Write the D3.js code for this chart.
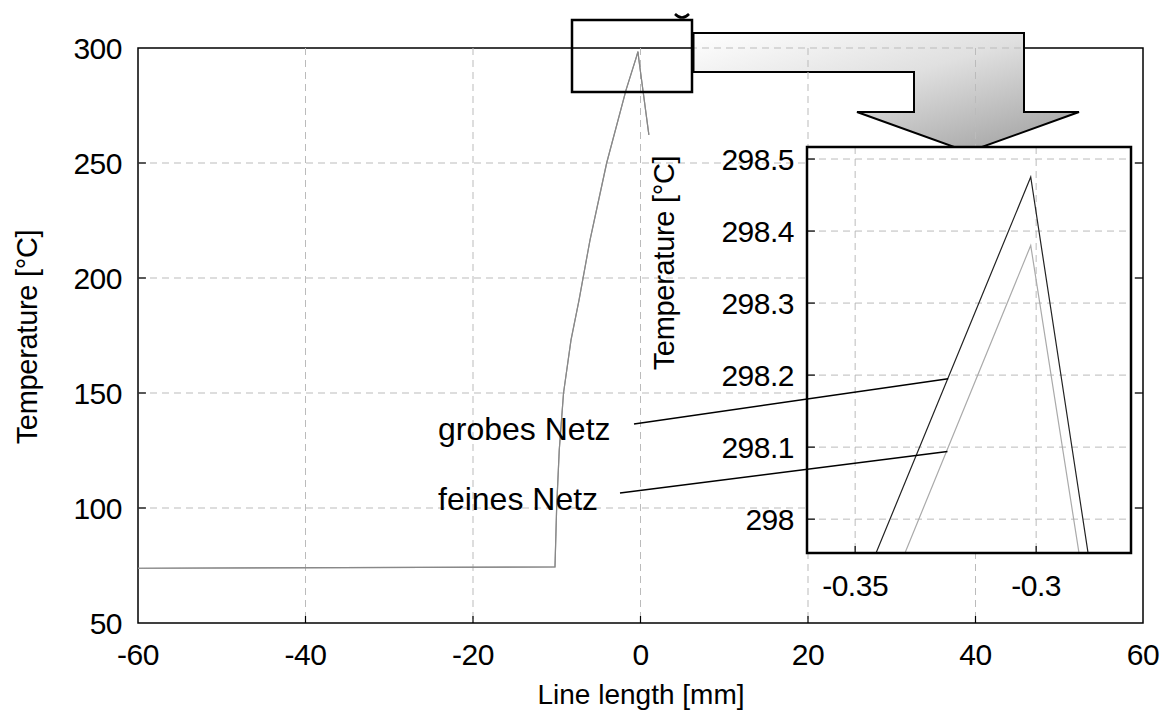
<!DOCTYPE html>
<html><head><meta charset="utf-8">
<script src="https://cdn.jsdelivr.net/npm/d3@7"></script>
<style>
html,body{margin:0;padding:0;background:#fff;}
text{font-family:"Liberation Sans",Arial,Helvetica,sans-serif;fill:#000;}
</style></head>
<body><svg id="c" width="1168" height="716"></svg>
<script>
// ---- data ----
const lineLength = [-60, -10.21, -10.01, -9.70, -9.19, -8.30, -7.34, -6.03, -4.04, -1.73, -0.5, -0.3015, -0.2, 1.0];
const tempCoarse = [73.8, 74.4, 100.4, 125.2, 150.0, 173.0, 190.4, 216.5, 250.0, 281.7, 296.05, 298.475, 295.13, 262.2];
const tempFine   = [73.8, 74.4, 100.4, 125.2, 150.0, 173.0, 190.4, 216.5, 250.0, 281.7, 295.94, 298.38, 295.13, 262.2];
const xTicks = [-60, -40, -20, 0, 20, 40, 60];
const yTicks = [50, 100, 150, 200, 250, 300];
const insetXTicks = [-0.35, -0.3];
const insetYTicks = [298, 298.1, 298.2, 298.3, 298.4, 298.5];
const labelCoarse = "grobes Netz";
const labelFine = "feines Netz";

const svg = d3.select("#c");
const x = d3.scaleLinear().domain([-60, 60]).range([138, 1143]);
const y = d3.scaleLinear().domain([50, 300]).range([623, 48]);
const xi = d3.scaleLinear().domain([-0.3633, -0.2738]).range([807, 1131]);
const yi = d3.scaleLinear().domain([297.953, 298.5167]).range([553, 147]);

const coarse = lineLength.map((v, i) => [v, tempCoarse[i]]);
const fine = lineLength.map((v, i) => [v, tempFine[i]]);
const dash = "7,5";
const arrowD = "M693,33 L1024,33 L1024,112 L1079,112 L968,152 L857,112 L914,112 L914,72 L693,72 Z";

// frame
svg.append("rect").attr("x", x(-60)).attr("y", y(300)).attr("width", x(60) - x(-60)).attr("height", y(50) - y(300))
  .attr("fill", "none").attr("stroke", "#000").attr("stroke-width", 1.5);

// arrow
const defs = svg.append("defs");
const g = defs.append("linearGradient").attr("id", "ag").attr("x1", "0").attr("y1", "0").attr("x2", "1").attr("y2", "1");
g.append("stop").attr("offset", "0").attr("stop-color", "#ffffff");
g.append("stop").attr("offset", "0.45").attr("stop-color", "#e0e0e0");
g.append("stop").attr("offset", "1").attr("stop-color", "#9a9a9a");
defs.append("clipPath").attr("id", "arc").append("path").attr("d", arrowD);
svg.append("path").attr("d", arrowD)
  .attr("fill", "url(#ag)").attr("stroke", "#000").attr("stroke-width", 2);

// gridlines
const grid = svg.append("g").attr("stroke", "#bbb").attr("stroke-width", 1).attr("stroke-dasharray", dash);
xTicks.slice(1, -1).forEach(t => grid.append("line").attr("x1", x(t)).attr("x2", x(t)).attr("y1", y(300)).attr("y2", y(50)));
yTicks.slice(1, -1).forEach(t => grid.append("line").attr("x1", x(-60)).attr("x2", x(60)).attr("y1", y(t)).attr("y2", y(t)));
grid.append("line").attr("clip-path", "url(#arc)").attr("x1", x(-60)).attr("x2", x(60)).attr("y1", y(300)).attr("y2", y(300));
svg.append("line").attr("x1", 693).attr("x2", 693).attr("y1", 32).attr("y2", 73).attr("stroke", "#000").attr("stroke-width", 3);

// ticks (inward)
const tk = svg.append("g").attr("stroke", "#000").attr("stroke-width", 1.2);
xTicks.slice(1, -1).forEach(t => {
  tk.append("line").attr("x1", x(t)).attr("x2", x(t)).attr("y1", y(50)).attr("y2", y(50) - 7);
});
yTicks.slice(1, -1).forEach(t => {
  tk.append("line").attr("x1", x(-60)).attr("x2", x(-60) + 8).attr("y1", y(t)).attr("y2", y(t));
  tk.append("line").attr("x1", x(60)).attr("x2", x(60) - 8).attr("y1", y(t)).attr("y2", y(t));
});

// tick labels
svg.append("g").selectAll("text").data(xTicks).join("text")
  .attr("x", d => x(d)).attr("y", 665).attr("text-anchor", "middle")
  .style("font-size", "30px").style("letter-spacing", "-0.5px").text(d => d);
svg.append("g").selectAll("text").data(yTicks).join("text")
  .attr("x", 122).attr("y", d => y(d) + 11).attr("text-anchor", "end")
  .style("font-size", "30px").style("letter-spacing", "-0.5px").text(d => d);

// axis titles
svg.append("text").attr("x", 641).attr("y", 704).attr("text-anchor", "middle").style("font-size", "28px").text("Line length [mm]");
svg.append("text").attr("transform", "translate(37,337) rotate(-90)").attr("text-anchor", "middle").style("font-size", "29px").style("letter-spacing", "-0.3px").text("Temperature [°C]");

// main curves
const line = d3.line().x(d => x(d[0])).y(d => y(d[1]));
svg.append("path").attr("d", line(fine)).attr("fill", "none").attr("stroke", "#999").attr("stroke-width", 1.2);
svg.append("path").attr("d", line(coarse)).attr("fill", "none").attr("stroke", "#888").attr("stroke-width", 1.2);

// magnifier box
svg.append("rect").attr("x", 572).attr("y", 20).attr("width", 120).attr("height", 72)
  .attr("fill", "none").attr("stroke", "#000").attr("stroke-width", 2.5);
svg.append("path").attr("d", "M675,14 Q682,21 689,14").attr("fill", "none").attr("stroke", "#000").attr("stroke-width", 2.5);

// inset
const ins = svg.append("g");
ins.append("rect").attr("x", 807).attr("y", 147).attr("width", 324).attr("height", 406).attr("fill", "#fff");
const ig = ins.append("g").attr("stroke", "#bbb").attr("stroke-width", 1).attr("stroke-dasharray", dash);
insetXTicks.forEach(t => ig.append("line").attr("x1", xi(t)).attr("x2", xi(t)).attr("y1", 147).attr("y2", 553));
insetYTicks.forEach(t => ig.append("line").attr("x1", 807).attr("x2", 1131).attr("y1", yi(t)).attr("y2", yi(t)));
const itk = ins.append("g").attr("stroke", "#000").attr("stroke-width", 1.2);
insetXTicks.forEach(t => itk.append("line").attr("x1", xi(t)).attr("x2", xi(t)).attr("y1", 553).attr("y2", 546));
insetYTicks.forEach(t => itk.append("line").attr("x1", 807).attr("x2", 815).attr("y1", yi(t)).attr("y2", yi(t)));
defs.append("clipPath").attr("id", "ic").append("rect").attr("x", 807).attr("y", 147).attr("width", 324).attr("height", 406);
const li = d3.line().x(d => xi(d[0])).y(d => yi(d[1]));
ins.append("path").attr("clip-path", "url(#ic)").attr("d", li(fine)).attr("fill", "none").attr("stroke", "#aaa").attr("stroke-width", 1.2);
ins.append("path").attr("clip-path", "url(#ic)").attr("d", li(coarse)).attr("fill", "none").attr("stroke", "#222").attr("stroke-width", 1.2);
ins.append("rect").attr("x", 807).attr("y", 147).attr("width", 324).attr("height", 406)
  .attr("fill", "none").attr("stroke", "#000").attr("stroke-width", 2.5);
ins.append("g").selectAll("text").data(insetXTicks).join("text")
  .attr("x", d => xi(d)).attr("y", 596).attr("text-anchor", "middle")
  .style("font-size", "30px").style("letter-spacing", "-0.5px").text(d => d);
ins.append("g").selectAll("text").data(insetYTicks).join("text")
  .attr("x", 794).attr("y", d => yi(d) + 11).attr("text-anchor", "end")
  .style("font-size", "30px").style("letter-spacing", "-0.5px").text(d => d);
ins.append("text").attr("transform", "translate(674,263) rotate(-90)").attr("text-anchor", "middle").style("font-size", "29px").style("letter-spacing", "-0.3px").text("Temperature [°C]");

// annotations
svg.append("line").attr("x1", 634).attr("y1", 424).attr("x2", xi(-0.3243)).attr("y2", yi(298.195)).attr("stroke", "#000").attr("stroke-width", 1.6);
svg.append("line").attr("x1", 620).attr("y1", 493).attr("x2", xi(-0.3245)).attr("y2", yi(298.094)).attr("stroke", "#000").attr("stroke-width", 1.6);
svg.append("text").attr("x", 438).attr("y", 440).style("font-size", "32px").text(labelCoarse);
svg.append("text").attr("x", 438).attr("y", 510).style("font-size", "32px").text(labelFine);
</script></body></html>
